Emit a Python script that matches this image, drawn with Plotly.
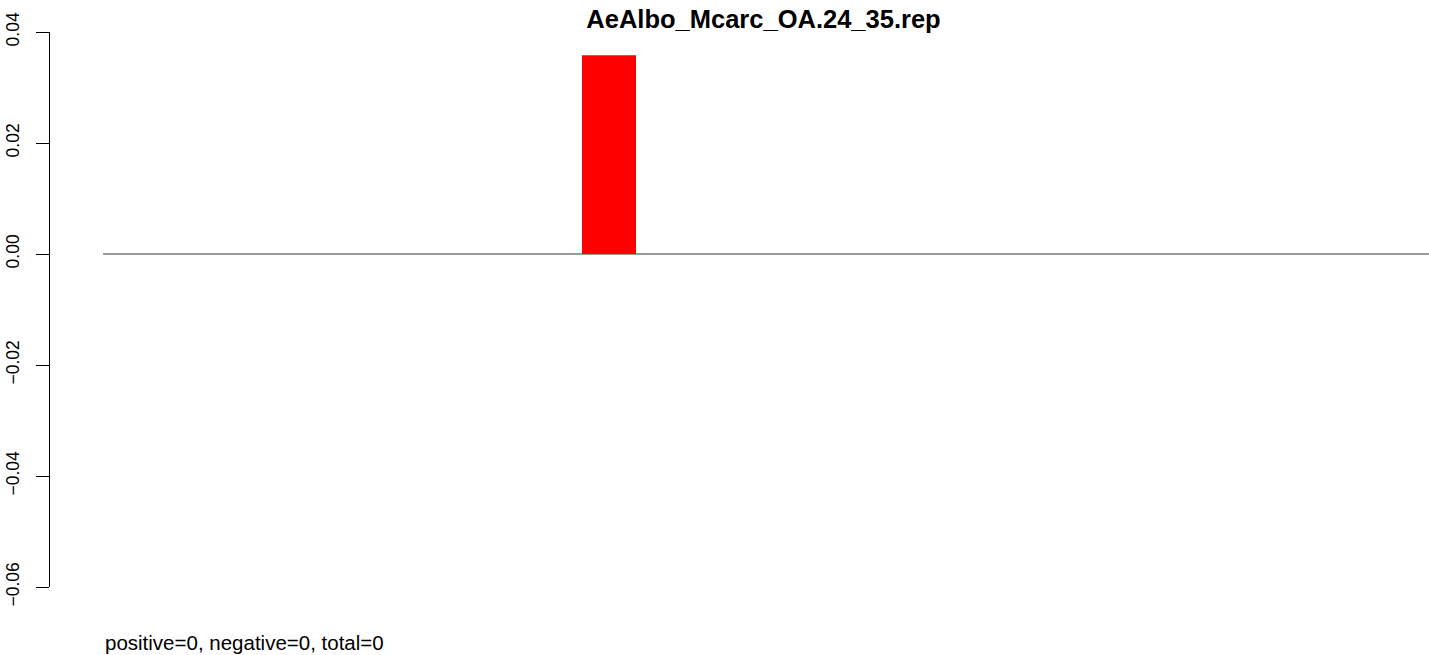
import plotly.graph_objects as go

# ---- data ----
bar_labels = ["AeAlbo_Mcarc_OA.24_35.rep"]
bar_values = [0.0358]
bar_positions = [0]
y_tick_values = [-0.06, -0.04, -0.02, 0.00, 0.02, 0.04]
y_tick_text = ["\u22120.06", "\u22120.04", "\u22120.02", "0.00", "0.02", "0.04"]
title_text = "AeAlbo_Mcarc_OA.24_35.rep"
footer_text = "positive=0, negative=0, total=0"

W, H = 1429, 655
ml, mr, mt, mb = 50, 0, 32, H - 587
plot_w = W - ml - mr
plot_h = H - mt - mb
px_per_unit = 54.0
bar_center_px = 609
x_left = bar_positions[0] - (bar_center_px - ml) / px_per_unit
x_right = x_left + plot_w / px_per_unit
zero_line_start = bar_positions[0] - (bar_center_px - 103) / px_per_unit

FONT = "Liberation Sans, Arial, Helvetica, sans-serif"

fig = go.Figure()
fig.add_trace(go.Bar(
    x=bar_positions, y=bar_values, width=1.0,
    marker=dict(color="#FF0000", line=dict(width=0)),
    hovertext=bar_labels, showlegend=False,
))

fig.add_shape(type="line", xref="x", yref="y",
              x0=zero_line_start, x1=x_right, y0=0, y1=0,
              line=dict(color="#7a7a7a", width=1.3), layer="below")

fig.update_layout(
    width=W, height=H,
    margin=dict(l=ml, r=mr, t=mt, b=mb, autoexpand=False),
    paper_bgcolor="white", plot_bgcolor="white",
    font=dict(family=FONT, color="black"),
    title=dict(text="<b>" + title_text + "</b>", x=(763.5 - ml) / plot_w,
               xref="paper", xanchor="center", y=1 - 19 / H, yref="container",
               yanchor="middle", font=dict(size=25.5, family=FONT, color="black"),
               automargin=False),
    xaxis=dict(range=[x_left, x_right], visible=False, showgrid=False, zeroline=False),
    yaxis=dict(range=[-0.06, 0.04], tickvals=y_tick_values, ticktext=y_tick_text,
               tickangle=-90, ticks="outside", ticklen=13, tickwidth=1, tickcolor="black",
               showline=True, linecolor="black", linewidth=1, showgrid=False,
               zeroline=False, tickfont=dict(size=17.5, family=FONT, color="black"),
               ticklabelstandoff=10, automargin=False),
    annotations=[dict(text=footer_text, xref="paper", yref="paper",
                      x=(103 - ml) / plot_w, y=(587 - 642) / plot_h,
                      xanchor="left", yanchor="middle", showarrow=False,
                      font=dict(size=20.5, family=FONT, color="black"))],
)

fig.write_html("out.html", config={"displayModeBar": False},
               post_script="document.body.style.margin='0';document.body.style.overflow='hidden';")
